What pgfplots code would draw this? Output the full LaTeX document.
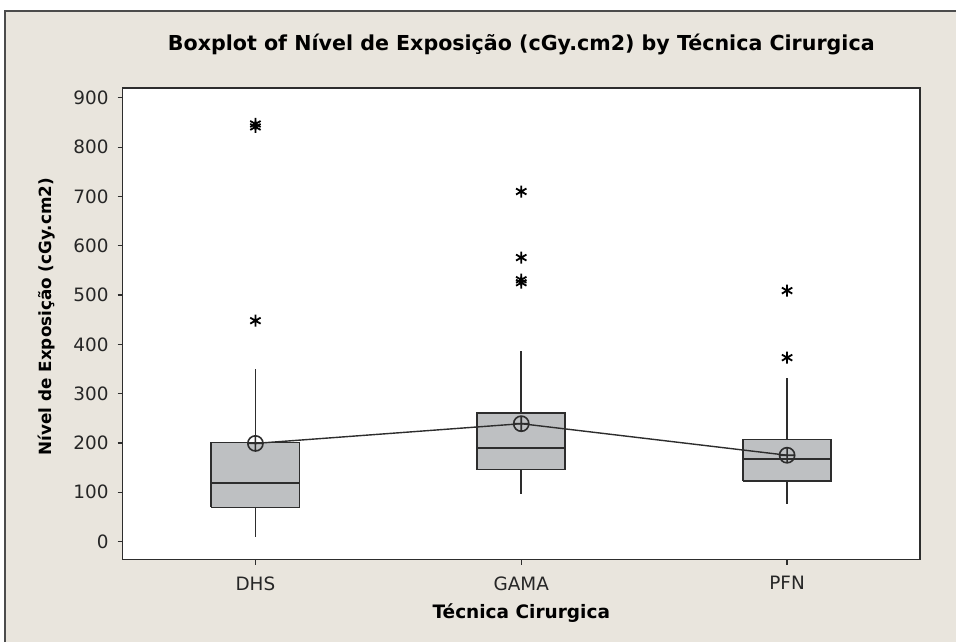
\documentclass[border=0pt]{standalone}
\usepackage{pgfplots}
\pgfplotsset{compat=1.18}
\usepackage{fontspec}
\setmainfont{DejaVu Sans}
\definecolor{bgc}{RGB}{233,229,221}
\definecolor{boxc}{RGB}{190,192,194}
\definecolor{edge}{RGB}{45,45,45}
\begin{document}
\begin{tikzpicture}
\path[use as bounding box] (0,0) rectangle (478pt,321pt);
\fill[bgc] (2.5pt,0) rectangle (478pt,315.5pt);
\draw[gray!60!black, line width=0.8pt] (2.5pt,0) -- (2.5pt,315.5pt) -- (478pt,315.5pt);
\begin{axis}[
  at={(61.25pt,41.25pt)}, anchor=south west,
  width=398.75pt, height=235.75pt, scale only axis,
  xmin=0.5, xmax=3.5, ymin=-36.5, ymax=920,
  axis background/.style={fill=white},
  axis line style={edge, line width=0.9pt},
  xtick={1,2,3}, xticklabels={DHS,GAMA,PFN},
  ytick={0,100,...,900},
  tick align=outside, tick pos=left,
  major tick length=2.5pt,
  tick style={edge, line width=0.6pt},
  ticklabel style={font=\fontsize{9.2}{10}\selectfont, text=black!85},
  xticklabel style={inner sep=0pt, anchor=north, yshift=-5.75pt},
  yticklabel style={inner sep=0pt, anchor=east, xshift=-4.25pt},
  /pgf/number format/assume math mode=true,
  title={Boxplot of Nível de Exposição (cGy.cm2) by Técnica Cirurgica},
  title style={font=\bfseries\fontsize{10.3}{12}\selectfont, at={(axis description cs:0.5,1)}, anchor=base, yshift=12.5pt, inner sep=0pt},
  xlabel={Técnica Cirurgica},
  xlabel style={font=\bfseries\fontsize{9.25}{11}\selectfont, at={(axis description cs:0.5,0)}, anchor=base, yshift=-29.25pt, inner sep=0pt},
  ylabel={Nível de Exposição (cGy.cm2)},
  ylabel style={font=\bfseries\fontsize{8.4}{10}\selectfont, at={(axis description cs:-0.0947,0.515)}, anchor=center, inner sep=0pt},
  clip=false,
]
% boxes (Q1 to Q3)
\addplot[fill=boxc, draw=edge, line width=0.9pt] coordinates {(0.834,69) (1.166,69) (1.166,201) (0.834,201) (0.834,69)};
\addplot[fill=boxc, draw=edge, line width=0.9pt] coordinates {(1.834,146) (2.166,146) (2.166,260) (1.834,260) (1.834,146)};
\addplot[fill=boxc, draw=edge, line width=0.9pt] coordinates {(2.834,122) (3.166,122) (3.166,207) (2.834,207) (2.834,122)};
% medians
\addplot[draw=edge, line width=0.9pt] coordinates {(0.834,118) (1.166,118)};
\addplot[draw=edge, line width=0.9pt] coordinates {(1.834,189) (2.166,189)};
\addplot[draw=edge, line width=0.9pt] coordinates {(2.834,168) (3.166,168)};
% whiskers
\addplot[draw=edge, line width=0.8pt] coordinates {(1,201) (1,349)};
\addplot[draw=edge, line width=0.8pt] coordinates {(1,69) (1,10)};
\addplot[draw=edge, line width=0.8pt] coordinates {(2,260) (2,386)};
\addplot[draw=edge, line width=0.8pt] coordinates {(2,146) (2,97)};
\addplot[draw=edge, line width=0.8pt] coordinates {(3,207) (3,331)};
\addplot[draw=edge, line width=0.8pt] coordinates {(3,122) (3,77)};
% outliers
\addplot[only marks, mark=asterisk, mark size=3pt, mark options={black, line width=0.9pt}] coordinates {(1,847) (1,841) (1,448) (2,710) (2,576) (2,531) (2,525) (3,509) (3,373)};
% means
\addplot[edge, line width=0.7pt, mark=oplus, mark size=3.8pt, mark options={line width=0.8pt}] coordinates {(1,199) (2,239) (3,175)};
\end{axis}
\end{tikzpicture}
\end{document}
